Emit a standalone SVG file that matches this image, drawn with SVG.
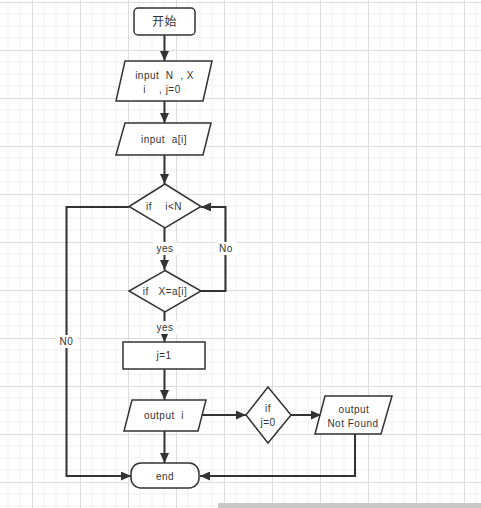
<svg xmlns="http://www.w3.org/2000/svg" width="481" height="508" viewBox="0 0 481 508">
<style>
.shape{fill:#ffffff;stroke:#333333;stroke-width:1.5}
.conn{fill:none;stroke:#333333;stroke-width:2}
.t{font-family:"Liberation Sans","Noto Sans CJK SC",sans-serif;font-size:10px;fill:#333333;text-anchor:middle;dominant-baseline:central;letter-spacing:0.5px}
.lbg{fill:#ffffff}
</style>
<defs>
<pattern id="grid" x="32" y="2" width="48" height="48" patternUnits="userSpaceOnUse">
<path d="M12 0V48M24 0V48M36 0V48M0 12H48M0 24H48M0 36H48" stroke="#efefef" stroke-width="1" fill="none"/>
<path d="M0.5 0V48M0 0.5H48" stroke="#dcdcdc" stroke-width="1" fill="none"/>
</pattern>
<marker id="arr" markerUnits="userSpaceOnUse" markerWidth="10" markerHeight="9" refX="10" refY="4.5" orient="auto">
<path d="M0,0 L10,4.5 L0,9 z" fill="#333333"/>
</marker>
</defs>
<rect x="0" y="0" width="481" height="508" fill="#ffffff"/>
<rect x="0" y="0" width="481" height="508" fill="url(#grid)"/>
<rect x="218" y="503" width="263" height="5" fill="#c8c8c8"/>

<g id="connectors">
<path class="conn" d="M164.5 35V61" marker-end="url(#arr)"/>
<path class="conn" d="M164.5 101V123" marker-end="url(#arr)"/>
<path class="conn" d="M164.5 155V184" marker-end="url(#arr)"/>
<path class="conn" d="M164.5 228V270" marker-end="url(#arr)"/>
<path class="conn" d="M201 291H225.5V207H201" marker-end="url(#arr)"/>
<path class="conn" d="M164.5 312V342" marker-end="url(#arr)"/>
<path class="conn" d="M164.5 369V400" marker-end="url(#arr)"/>
<path class="conn" d="M164.5 431V463" marker-end="url(#arr)"/>
<path class="conn" d="M202 415H246" marker-end="url(#arr)"/>
<path class="conn" d="M291 415H321" marker-end="url(#arr)"/>
<path class="conn" d="M355 434V476H200" marker-end="url(#arr)"/>
<path class="conn" d="M129 207H66.5V476H131" marker-end="url(#arr)"/>
<rect class="lbg" x="153" y="242" width="24" height="13"/>
<text class="t" x="165" y="248.5">yes</text>
<rect class="lbg" x="215" y="242" width="22" height="13"/>
<text class="t" x="226" y="248.5">No</text>
<rect class="lbg" x="153" y="321" width="24" height="13"/>
<text class="t" x="165" y="327.5">yes</text>
<rect class="lbg" x="56" y="335" width="21" height="13"/>
<text class="t" x="66.5" y="341.5">N0</text>
</g>

<g id="start">
<rect class="shape" x="134" y="8" width="61" height="27" rx="4"/>
<text class="t" x="164.5" y="21.5" style="font-size:12px">开始</text>
</g>
<g id="input1">
<polygon class="shape" points="125,61 212,61 203,101 116,101"/>
<text class="t" x="164.5" y="75.5" xml:space="preserve">input  N  , X</text>
<text class="t" x="162" y="89.5" xml:space="preserve">i    , j=0</text>
</g>
<g id="input2">
<polygon class="shape" points="125,123 211,123 203,155 116,155"/>
<text class="t" x="164" y="139" xml:space="preserve">input  a[i]</text>
</g>
<g id="cond1">
<polygon class="shape" points="165,184 201,206.5 165,228 129,206.5"/>
<text class="t" x="164" y="206.5" xml:space="preserve">if    i&lt;N</text>
</g>
<g id="cond2">
<polygon class="shape" points="165,270.5 201,291 165,312 129,291"/>
<text class="t" x="165" y="291" xml:space="preserve">if   X=a[i]</text>
</g>
<g id="assign">
<rect class="shape" x="123" y="342" width="82" height="27"/>
<text class="t" x="164" y="355.5">j=1</text>
</g>
<g id="output1">
<polygon class="shape" points="132,400 206,400 198,431 124,431"/>
<text class="t" x="164" y="415.5" xml:space="preserve">output  i</text>
</g>
<g id="cond3">
<polygon class="shape" points="268,387 291,415 268,443 246,415"/>
<text class="t" x="268" y="408">if</text>
<text class="t" x="268" y="422">j=0</text>
</g>
<g id="output2">
<polygon class="shape" points="325,396 392,396 381,434 315,434"/>
<text class="t" x="354" y="409.5">output</text>
<text class="t" x="353" y="423.5">Not Found</text>
</g>
<g id="end">
<rect class="shape" x="131" y="463" width="68" height="25" rx="10"/>
<text class="t" x="165" y="476">end</text>
</g>
</svg>
